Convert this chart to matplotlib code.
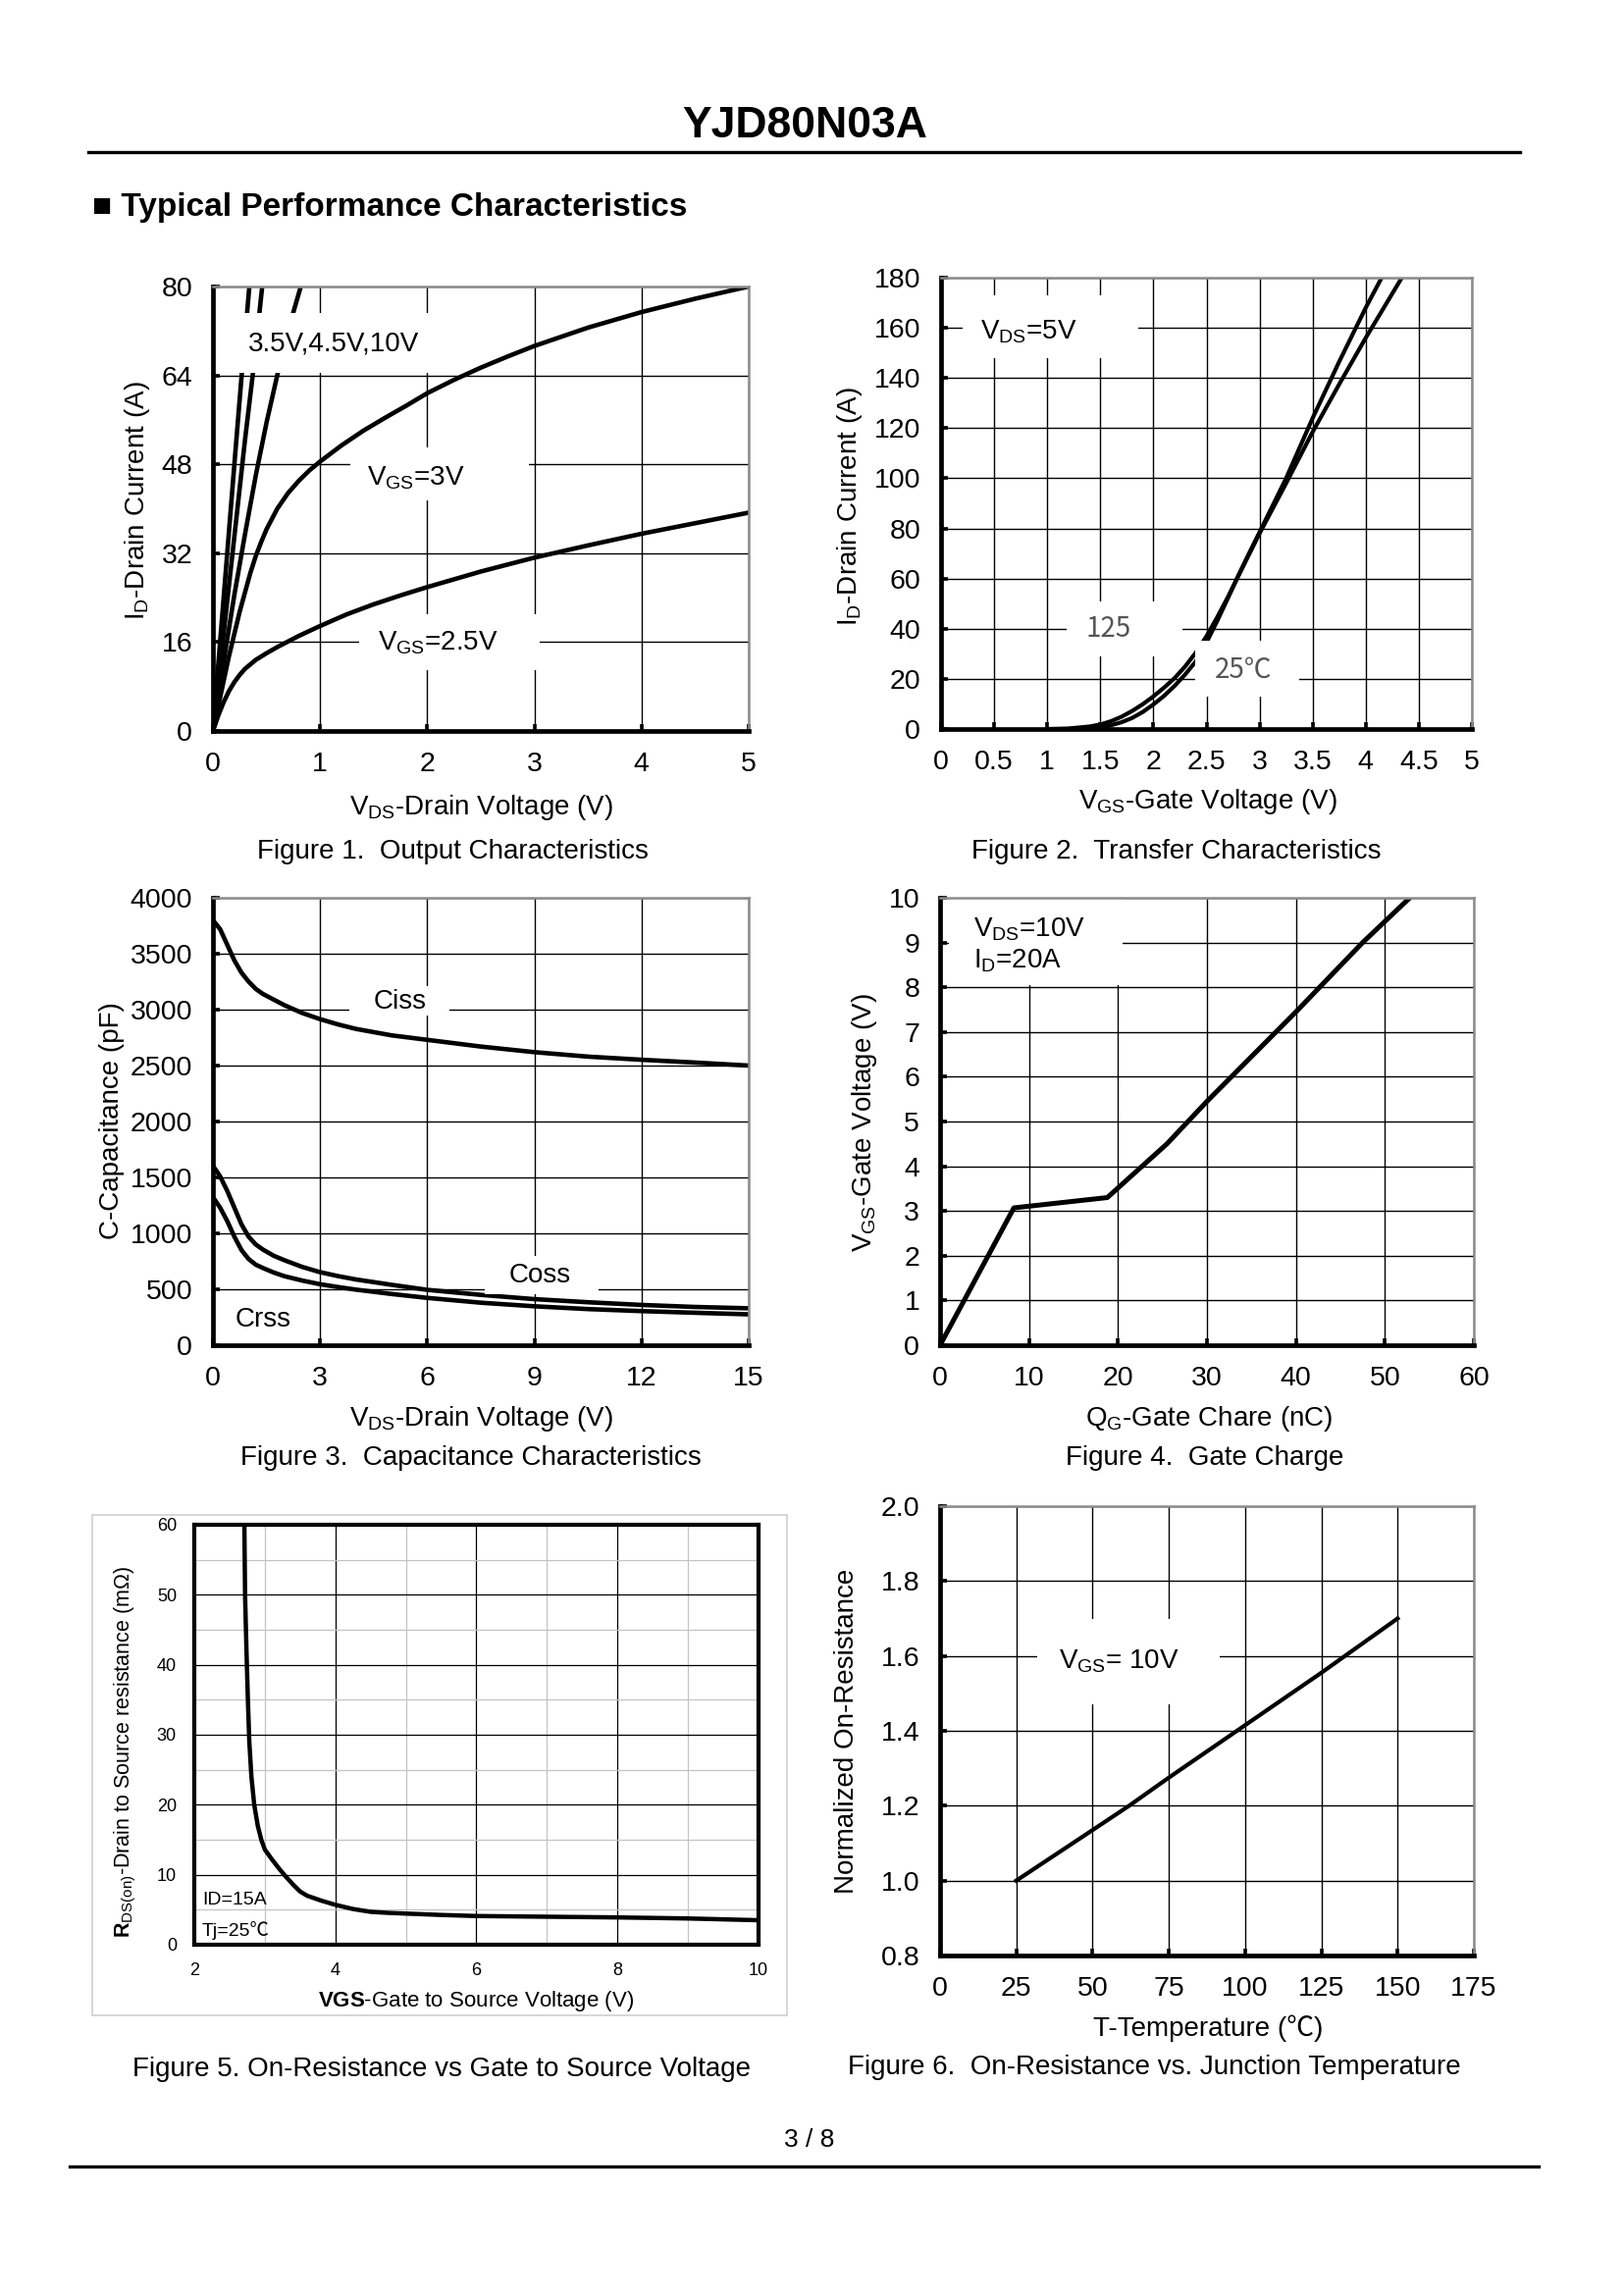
import matplotlib
matplotlib.use("Agg")
import matplotlib.pyplot as plt
from matplotlib.patches import Rectangle
from matplotlib.lines import Line2D
from matplotlib.ticker import FuncFormatter, MultipleLocator

plt.rcParams['font.family'] = ['Liberation Sans', 'Noto Sans CJK SC', 'DejaVu Sans']
plt.rcParams['mathtext.fontset'] = 'custom'
plt.rcParams['mathtext.rm'] = 'Liberation Sans'
plt.rcParams['mathtext.it'] = 'Liberation Sans:italic'
plt.rcParams['mathtext.bf'] = 'Liberation Sans:bold'

# ---------------- data ----------------
# Figure 1: Output characteristics (VDS [V] -> ID [A])
f1_x_25 = [0, 0.05, 0.1, 0.15, 0.2, 0.25, 0.3, 0.4, 0.5, 0.6, 0.7, 0.8, 0.9, 1.0,
           1.25, 1.5, 1.75, 2.0, 2.5, 3.0, 3.5, 4.0, 4.5, 5.0]
f1_y_25 = [0, 2.8, 5.2, 7.2, 8.8, 10.1, 11.2, 12.8, 14.0, 15.1, 16.1, 17.1, 18.0, 18.9,
           21.0, 22.8, 24.4, 25.9, 28.7, 31.2, 33.4, 35.5, 37.4, 39.3]
f1_x_30 = [0, 0.05, 0.1, 0.15, 0.2, 0.25, 0.3, 0.35, 0.4, 0.45, 0.5, 0.6, 0.7, 0.8, 0.9,
           1.0, 1.2, 1.4, 1.6, 1.8, 2.0, 2.25, 2.5, 2.75, 3.0, 3.5, 4.0, 4.5, 5.0]
f1_y_30 = [0, 4.5, 9, 13.5, 17.5, 21.5, 25, 28.5, 31.5, 34, 36.3, 40, 42.8, 45, 46.9,
           48.5, 51.4, 54, 56.3, 58.5, 60.8, 63.2, 65.4, 67.4, 69.3, 72.6, 75.4, 77.8, 80]
f1_x_10 = [0, 0.1, 0.2, 0.268, 0.34]
f1_y_10 = [0, 24, 48, 64, 80]
f1_x_45 = [0, 0.1, 0.2, 0.3, 0.371, 0.46]
f1_y_45 = [0, 17.5, 35, 52.5, 64, 80]
f1_x_35 = [0, 0.1, 0.2, 0.3, 0.4, 0.5, 0.6, 0.7, 0.82]
f1_y_35 = [0, 12.5, 24.5, 35.5, 46, 55.5, 64, 72, 80]
f1_xticks = [0, 1, 2, 3, 4, 5]
f1_yticks = [0, 16, 32, 48, 64, 80]

# Figure 2: Transfer characteristics (VGS [V] -> ID [A])
f2_x_125 = [1.0, 1.2, 1.4, 1.5, 1.6, 1.7, 1.8, 1.9, 2.0, 2.1, 2.2, 2.3, 2.4, 2.5, 2.6,
            2.7, 2.8, 2.9, 3.0, 3.25, 3.5, 3.75, 4.0, 4.34]
f2_y_125 = [0, 0.2, 1.0, 1.8, 3.1, 4.9, 7.2, 9.9, 13, 16.5, 20.3, 25, 30.5, 37, 44.5,
            52.5, 61, 69.5, 78, 98, 118.5, 137.5, 156, 180]
f2_x_25 = [1.2, 1.4, 1.5, 1.6, 1.7, 1.8, 1.9, 2.0, 2.1, 2.2, 2.3, 2.4, 2.5, 2.6, 2.7,
           2.8, 2.9, 3.0, 3.25, 3.5, 3.75, 4.0, 4.15]
f2_y_25 = [0, 0.3, 0.7, 1.5, 2.7, 4.4, 6.8, 9.8, 13.2, 17.2, 21.8, 27, 34.5, 43, 52,
           61.2, 70, 78.5, 100, 124, 146.5, 168, 180]
f2_xticks = [0, 0.5, 1, 1.5, 2, 2.5, 3, 3.5, 4, 4.5, 5]
f2_yticks = [0, 20, 40, 60, 80, 100, 120, 140, 160, 180]

# Figure 3: Capacitance (VDS [V] -> C [pF])
f3_x = [0.05, 0.2, 0.4, 0.6, 0.8, 1.0, 1.2, 1.4, 1.7, 2.0, 2.5, 3.0, 3.5, 4.0, 5.0,
        6.0, 7.5, 9.0, 10.5, 12.0, 13.5, 15.0]
f3_ciss = [3780, 3720, 3580, 3440, 3330, 3250, 3185, 3140, 3090, 3040, 2970, 2915, 2868,
           2828, 2770, 2730, 2670, 2620, 2580, 2552, 2527, 2500]
f3_coss = [1580, 1510, 1380, 1230, 1080, 970, 900, 855, 800, 760, 700, 653, 618, 588,
           540, 495, 450, 412, 384, 360, 342, 330]
f3_crss = [1300, 1230, 1110, 970, 850, 770, 720, 690, 650, 617, 578, 545, 520, 497,
           458, 423, 380, 348, 323, 305, 290, 276]
f3_xticks = [0, 3, 6, 9, 12, 15]
f3_yticks = [0, 500, 1000, 1500, 2000, 2500, 3000, 3500, 4000]

# Figure 4: Gate charge (QG [nC] -> VGS [V])
f4_qg = [0, 8.3, 18.8, 25.5, 30, 40, 47.5, 52.8]
f4_vgs = [0, 3.07, 3.30, 4.5, 5.45, 7.45, 9.0, 10.0]
f4_xticks = [0, 10, 20, 30, 40, 50, 60]
f4_yticks = list(range(0, 11))

# Figure 5: RDS(on) vs VGS
f5_vgs = [2.71, 2.72, 2.74, 2.76, 2.78, 2.81, 2.85, 2.9, 2.95, 3.0, 3.1, 3.2, 3.3, 3.4,
          3.5, 3.6, 3.8, 4.0, 4.25, 4.5, 4.75, 5.0, 5.5, 6.0, 7.0, 8.0, 9.0, 10.0]
f5_rds = [60, 50, 42, 35, 29, 24, 20, 17, 15, 13.6, 12.2, 10.9, 9.7, 8.6,
          7.6, 7.0, 6.3, 5.7, 5.1, 4.7, 4.55, 4.45, 4.25, 4.1, 4.0, 3.9, 3.75, 3.5]
f5_xticks = [2, 4, 6, 8, 10]
f5_yticks = [0, 10, 20, 30, 40, 50, 60]

# Figure 6: Normalized RDS(on) vs temperature
f6_t = [25, 50, 62, 75, 100, 125, 150]
f6_r = [1.0, 1.135, 1.2, 1.275, 1.415, 1.555, 1.70]
f6_xticks = [0, 25, 50, 75, 100, 125, 150, 175]
f6_yticks = [0.8, 1.0, 1.2, 1.4, 1.6, 1.8, 2.0]

# ---------------- layout helpers ----------------
W, H = 1656, 2339
fig = plt.figure(figsize=(W / 100, H / 100), dpi=100)
fig.patch.set_facecolor('white')


def fx(x):
    return x / W


def fy(y):
    return 1 - y / H


def make_axes(box):
    x0, y0, x1, y1 = box
    ax = fig.add_axes([fx(x0), fy(y1), (x1 - x0) / W, (y1 - y0) / H])
    ax._pxbox = box
    return ax


def place_xlabel(ax, text, xc, yc, size):
    x0, y0, x1, y1 = ax._pxbox
    ax.set_xlabel(text, fontsize=size)
    ax.xaxis.label.set_va('center')
    ax.xaxis.set_label_coords((xc - x0) / (x1 - x0), (y1 - yc) / (y1 - y0))


def place_ylabel(ax, text, xc, yc, size):
    x0, y0, x1, y1 = ax._pxbox
    ax.set_ylabel(text, fontsize=size)
    ax.yaxis.label.set_va('center')
    ax.yaxis.label.set_ha('center')
    ax.yaxis.set_label_coords((xc - x0) / (x1 - x0), (y1 - yc) / (y1 - y0))


def gfmt(v, pos):
    return ('%g' % v)


def style_std(ax, xlim, ylim, xt, yt, yfmt=None):
    ax.set_xlim(*xlim)
    ax.set_ylim(*ylim)
    ax.set_xticks(xt)
    ax.set_yticks(yt)
    ax.xaxis.set_major_formatter(FuncFormatter(gfmt))
    ax.yaxis.set_major_formatter(yfmt if yfmt is not None else FuncFormatter(gfmt))
    ax.grid(True, color='black', lw=1.0)
    ax.set_axisbelow(True)
    for s in ('left', 'bottom'):
        ax.spines[s].set_linewidth(3.4)
        ax.spines[s].set_color('black')
        ax.spines[s].set_zorder(6)
    for s in ('top', 'right'):
        ax.spines[s].set_linewidth(1.8)
        ax.spines[s].set_color('#8c8c8c')
        ax.spines[s].set_zorder(6)
    ax.tick_params(direction='in', length=5, width=2.6, labelsize=20.5, pad=15,
                   top=False, right=False)


def blank(ax, x0, y0, x1, y1):
    ax.add_patch(Rectangle((x0, y0), x1 - x0, y1 - y0, facecolor='white',
                           edgecolor='none', zorder=3))


LW = 3.3

# ---------------- page header/footer ----------------
fig.text(fx(820), fy(140), 'YJD80N03A', ha='center', va='baseline',
         fontsize=32, fontweight='bold')
fig.add_artist(Line2D([fx(90), fx(1549)], [fy(155), fy(155)], color='black', lw=2.4))
fig.text(fx(94), fy(220), '■ Typical Performance Characteristics', ha='left',
         va='baseline', fontsize=24, fontweight='bold')
fig.text(fx(825), fy(2188), '3 / 8', ha='center', va='baseline', fontsize=19)
fig.add_artist(Line2D([fx(71), fx(1568)], [fy(2208), fy(2208)], color='black', lw=2.4))

# ---------------- Figure 1 ----------------
ax1 = make_axes((217, 292, 763, 745))
style_std(ax1, (0, 5), (0, 80), f1_xticks, f1_yticks)
for xs, ys in [(f1_x_25, f1_y_25), (f1_x_30, f1_y_30), (f1_x_10, f1_y_10),
               (f1_x_45, f1_y_45), (f1_x_35, f1_y_35)]:
    ax1.plot(xs, ys, color='black', lw=LW, zorder=2, solid_joinstyle='round')
blank(ax1, 0.24, 64.4, 2.08, 75.2)
ax1.text(0.33, 69.7, '3.5V,4.5V,10V', fontsize=20, ha='left', va='center', zorder=4)
blank(ax1, 1.28, 41.5, 2.95, 51.0)
ax1.text(1.44, 45.6, r'V$_{\mathrm{GS}}$=3V', fontsize=20, ha='left', va='center', zorder=4)
blank(ax1, 1.36, 11.0, 3.05, 21.0)
ax1.text(1.54, 15.9, r'V$_{\mathrm{GS}}$=2.5V', fontsize=20, ha='left', va='center', zorder=4)
place_xlabel(ax1, r'V$_{\mathrm{DS}}$-Drain Voltage (V)', 490, 823, 20)
place_ylabel(ax1, r'I$_{\mathrm{D}}$-Drain Current (A)', 140, 510, 20)
fig.text(fx(461), fy(875), 'Figure 1.  Output Characteristics', ha='center',
         va='baseline', fontsize=20)

# ---------------- Figure 2 ----------------
ax2 = make_axes((959, 283, 1500, 743))
style_std(ax2, (0, 5), (0, 180), f2_xticks, f2_yticks)
ax2.plot(f2_x_125, f2_y_125, color='black', lw=3.0, zorder=2, solid_joinstyle='round')
ax2.plot(f2_x_25, f2_y_25, color='black', lw=3.0, zorder=2, solid_joinstyle='round')
blank(ax2, 0.2, 148, 1.86, 173)
ax2.text(0.37, 158.5, r'V$_{\mathrm{DS}}$=5V', fontsize=20, ha='left', va='center', zorder=4)
blank(ax2, 1.18, 29, 2.27, 51)
ax2.text(1.36, 40, '125', fontsize=20, ha='left', va='center', zorder=4,
         color='#555555', family=['Noto Sans CJK SC', 'DejaVu Sans'])
blank(ax2, 2.39, 13, 3.37, 35.3)
ax2.text(2.58, 23.5, '25℃', fontsize=20, ha='left', va='center', zorder=4,
         color='#555555', family=['Noto Sans CJK SC', 'DejaVu Sans'])
place_xlabel(ax2, r'V$_{\mathrm{GS}}$-Gate Voltage (V)', 1231, 817, 20)
place_ylabel(ax2, r'I$_{\mathrm{D}}$-Drain Current (A)', 866, 516, 20)
fig.text(fx(1199), fy(875), 'Figure 2.  Transfer Characteristics', ha='center',
         va='baseline', fontsize=20)

# ---------------- Figure 3 ----------------
ax3 = make_axes((217, 915, 763, 1371))
style_std(ax3, (0, 15), (0, 4000), f3_xticks, f3_yticks)
for ys in (f3_ciss, f3_coss, f3_crss):
    ax3.plot(f3_x, ys, color='black', lw=LW, zorder=2, solid_joinstyle='round')
blank(ax3, 3.83, 2950, 6.62, 3210)
ax3.text(4.5, 3074, 'Ciss', fontsize=20, ha='left', va='center', zorder=4)
blank(ax3, 7.6, 460, 10.8, 800)
ax3.text(8.28, 624, 'Coss', fontsize=20, ha='left', va='center', zorder=4)
ax3.text(0.62, 230, 'Crss', fontsize=20, ha='left', va='center', zorder=4)
place_xlabel(ax3, r'V$_{\mathrm{DS}}$-Drain Voltage (V)', 490, 1446, 20)
place_ylabel(ax3, 'C-Capacitance (pF)', 114, 1142, 20)
fig.text(fx(480), fy(1493), 'Figure 3.  Capacitance Characteristics', ha='center',
         va='baseline', fontsize=20)

# ---------------- Figure 4 ----------------
ax4 = make_axes((958, 915, 1502, 1371))
style_std(ax4, (0, 60), (0, 10), f4_xticks, f4_yticks)
ax4.plot(f4_qg, f4_vgs, color='black', lw=3.6, zorder=2, solid_joinstyle='round')
blank(ax4, 1.0, 8.05, 20.5, 10)
ax4.text(3.7, 9.3, r'V$_{\mathrm{DS}}$=10V', fontsize=20, ha='left', va='center', zorder=4)
ax4.text(3.7, 8.6, r'I$_{\mathrm{D}}$=20A', fontsize=20, ha='left', va='center', zorder=4)
place_xlabel(ax4, r'Q$_{\mathrm{G}}$-Gate Chare (nC)', 1232, 1446, 20)
place_ylabel(ax4, r'V$_{\mathrm{GS}}$-Gate Voltage (V)', 881, 1144, 20)
fig.text(fx(1228), fy(1493), 'Figure 4.  Gate Charge', ha='center',
         va='baseline', fontsize=20)

# ---------------- Figure 5 ----------------
fig.add_artist(Rectangle((fx(94), fy(2054)), (802 - 94) / W, (2054 - 1544) / H,
                         transform=fig.transFigure, facecolor='none',
                         edgecolor='#cfcfcf', lw=1.2))
ax5 = make_axes((198, 1554, 773, 1982))
ax5.set_xlim(2, 10)
ax5.set_ylim(0, 60)
ax5.set_xticks(f5_xticks)
ax5.set_yticks(f5_yticks)
ax5.xaxis.set_minor_locator(MultipleLocator(1))
ax5.yaxis.set_minor_locator(MultipleLocator(5))
ax5.grid(True, which='minor', color='#c4c4c4', lw=0.9)
ax5.grid(True, which='major', color='black', lw=0.9)
ax5.set_axisbelow(True)
for s in ax5.spines.values():
    s.set_linewidth(3.0)
    s.set_color('black')
    s.set_zorder(6)
ax5.tick_params(which='both', length=0, labelsize=13, pad=13)
ax5.plot(f5_vgs, f5_rds, color='black', lw=3.2, zorder=2, solid_joinstyle='round')
ax5.text(2.11, 6.4, 'ID=15A', fontsize=14, ha='left', va='center', zorder=4)
ax5.text(2.11, 2.1, 'Tj=25℃', fontsize=14, ha='left', va='center', zorder=4)
place_xlabel(ax5, r'$\mathbf{VGS}$-Gate to Source Voltage (V)', 485, 2040, 16)
place_ylabel(ax5, r'$\mathbf{R}_{\mathrm{DS(on)}}$-Drain to Source resistance (mΩ)', 128, 1785, 15.5)
fig.text(fx(450), fy(2116), 'Figure 5. On-Resistance vs Gate to Source Voltage',
         ha='center', va='baseline', fontsize=20)

# ---------------- Figure 6 ----------------
ax6 = make_axes((958, 1535, 1502, 1993))
style_std(ax6, (0, 175), (0.8, 2.0), f6_xticks, f6_yticks,
          yfmt=FuncFormatter(lambda v, p: '%.1f' % v))
ax6.plot(f6_t, f6_r, color='black', lw=3.0, zorder=2, solid_joinstyle='round')
blank(ax6, 31.8, 1.47, 91.7, 1.70)
ax6.text(39, 1.586, r'V$_{\mathrm{GS}}$= 10V', fontsize=20, ha='left', va='center', zorder=4)
place_xlabel(ax6, 'T-Temperature (℃)', 1231, 2067, 20)
place_ylabel(ax6, 'Normalized On-Resistance', 863, 1764, 20)
fig.text(fx(1176), fy(2114), 'Figure 6.  On-Resistance vs. Junction Temperature',
         ha='center', va='baseline', fontsize=20)

fig.savefig('out.png', dpi=100, facecolor='white')
